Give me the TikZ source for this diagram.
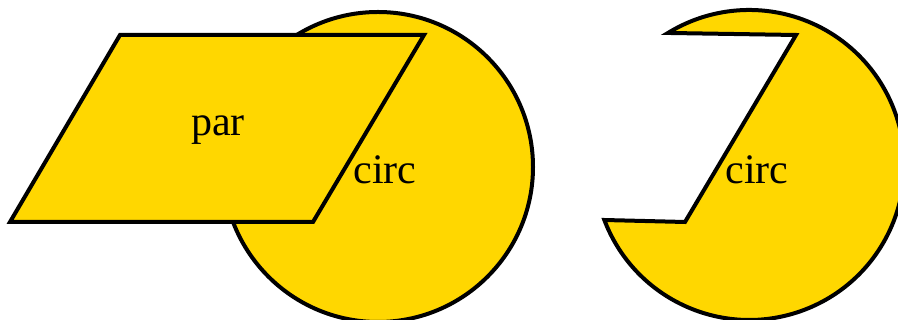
\documentclass[tikz,border=0pt]{standalone}
\usepackage{fontspec}
\setmainfont{Liberation Serif}
\usepackage{xcolor}
\definecolor{gold}{RGB}{255,215,0}
\tikzset{shapeline/.style={draw=black,line width=4pt,fill=gold},
	lbl/.style={font=\fontsize{42}{44}\selectfont,inner sep=0pt}}

\begin{document}
\begin{tikzpicture}[line cap=round,line join=miter,x=1pt,y=1pt]
		\useasboundingbox (0,0) rectangle (898,320);
		% left: circle under the parallelogram
		\node[circle,shapeline,minimum size=310pt,inner sep=0pt] (circA) at (378,153) {};
		\node[lbl] (circAtext) at ([shift={(7,-3)}]circA.center) {circ};
		\draw[shapeline] (120,285) -- (424,285) -- (313,98) -- (10,98) -- cycle;
		\node[lbl] (par) at (218,190) {par};
		% right: circle with the parallelogram cut out
		\node[circle,minimum size=310pt,inner sep=0pt,outer sep=0pt] (circB) at (750,153) {};
		\draw[shapeline] (circB.200.8) arc[start angle=200.8,end angle=481.6,radius=155]
			-- (796,285) -- (685,98) -- cycle;
		\node[lbl] (circBtext) at ([shift={(7,-3)}]circB.center) {circ};
	\end{tikzpicture}
\end{document}
